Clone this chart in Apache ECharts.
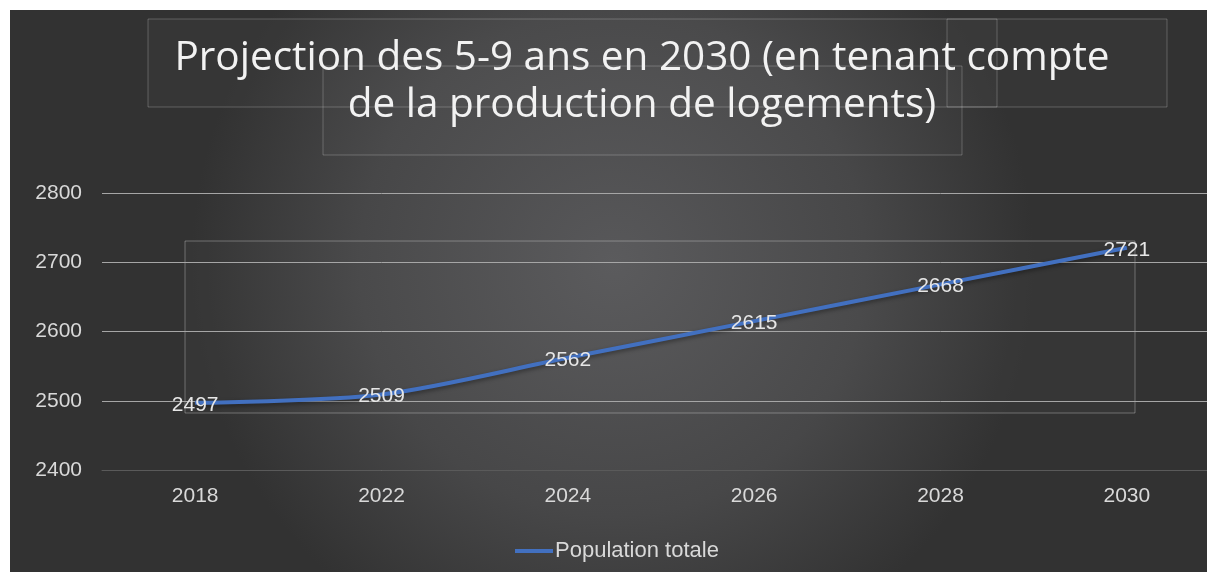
<!DOCTYPE html>
<html><head><meta charset="utf-8">
<script src="https://cdn.jsdelivr.net/npm/echarts@6/dist/echarts.min.js"></script>
<style>
html,body{margin:0;padding:0;background:#fff;width:1207px;height:572px;overflow:hidden}
#c{position:absolute;left:10px;top:10px;width:1230px;height:562px}
</style></head><body><div id="c"></div>
<script>
const titleText = 'Projection des 5-9 ans en 2030 (en tenant compte\nde la production de logements)';
const categories = ['2018','2022','2024','2026','2028','2030'];
const seriesName = 'Population totale';
const values = [2497, 2509, 2562, 2615, 2668, 2721];
const yTicks = [2400, 2500, 2600, 2700, 2800];

const FONT = '"Liberation Sans", Arial, sans-serif';
const chart = echarts.init(document.getElementById('c'), null, {renderer:'canvas'});
const rectStyle = {fill:'rgba(255,255,255,0.02)', stroke:'rgba(255,255,255,0.22)', lineWidth:1};
chart.setOption({
  backgroundColor: {
    type:'radial', x:0.49, y:0.45, r:0.75,
    colorStops:[{offset:0,color:'#58585a'},{offset:0.6,color:'#474748'},{offset:1,color:'#323232'}]
  },
  animation:false,
  graphic:[
    {type:'rect', shape:{x:138,y:9,width:1019,height:88}, style:rectStyle, silent:true},
    {type:'rect', shape:{x:313,y:56,width:639,height:89}, style:rectStyle, silent:true},
    {type:'rect', shape:{x:937,y:9,width:50,height:88}, style:rectStyle, silent:true},
    {type:'rect', shape:{x:175,y:231,width:950,height:172}, style:{fill:'rgba(255,255,255,0.02)', stroke:'rgba(255,255,255,0.3)', lineWidth:1}, silent:true, z:-1},
    {type:'text', x:632, y:25, z:10, style:{
      text:titleText, fill:'#f2f2f2', font:'40.5px "Open Sans", "Noto Sans", sans-serif',
      align:'center', verticalAlign:'top', lineHeight:47,
      shadowColor:'rgba(0,0,0,0.6)', shadowBlur:4, shadowOffsetX:1, shadowOffsetY:2
    }}
  ],
  grid:{left:92, right:20, top:183, bottom:102, containLabel:false},
  legend:{
    data:[seriesName], bottom:5, left:500, itemWidth:38, itemHeight:4, itemGap:4,
    icon:'rect',
    textStyle:{color:'#d9d9d9', fontSize:22, fontFamily:FONT, padding:[0,0,0,-3]}
  },
  xAxis:{
    type:'category', data:categories, boundaryGap:true,
    axisLine:{show:true, lineStyle:{color:'#5a5a5a', width:1}},
    axisTick:{show:false},
    axisLabel:{color:'#d9d9d9', fontSize:21, fontFamily:FONT, margin:16}
  },
  yAxis:{
    type:'value', min:yTicks[0], max:yTicks[yTicks.length-1], interval:100,
    axisLine:{show:false}, axisTick:{show:false},
    axisLabel:{color:'#d9d9d9', fontSize:21, fontFamily:FONT, margin:20, formatter:v=>String(v)},
    splitLine:{lineStyle:{color:'#a6a6a6', width:1}}
  },
  series:[{
    name:seriesName, type:'line', data:values, smooth:0.3,
    symbol:'circle', symbolSize:1, showSymbol:true,
    lineStyle:{color:'#4270c0', width:4, shadowColor:'rgba(0,0,0,0.4)', shadowBlur:4, shadowOffsetY:2},
    itemStyle:{color:'#4270c0', borderWidth:0},
    label:{show:true, position:'inside', offset:[0,2], color:'#e6e6e6', fontSize:21, fontFamily:FONT}
  }]
});
</script></body></html>
